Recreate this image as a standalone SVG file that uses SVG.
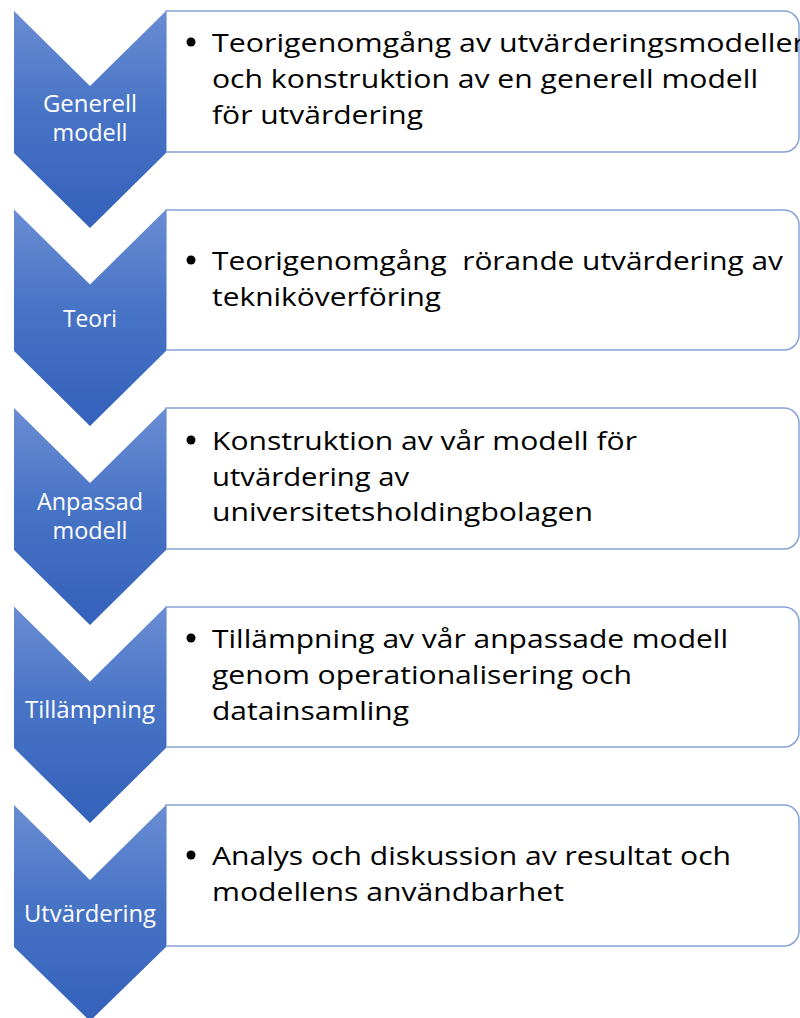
<svg xmlns="http://www.w3.org/2000/svg" width="800" height="1018" viewBox="0 0 800 1018">
  <defs>
    <linearGradient id="chevFill" x1="0" y1="0" x2="0" y2="1">
      <stop offset="0" stop-color="#6a8dd3"/>
      <stop offset="0.45" stop-color="#4874c6"/>
      <stop offset="1" stop-color="#3461ba"/>
    </linearGradient>
    <style>
      .box { fill: #ffffff; stroke: #86a2d8; stroke-width: 1.5; }
      .chev { fill: url(#chevFill); }
      .label { font-family: "Open Sans", "Noto Sans", "Liberation Sans", sans-serif; font-size: 23px; fill: #ffffff; text-anchor: middle; }
      .item { font-family: "Open Sans", "Noto Sans", "Liberation Sans", sans-serif; font-size: 25.5px; fill: #000000; font-variant-ligatures: none; }
      .dot { fill: #000000; }
    </style>
  </defs>

  <rect width="800" height="1018" fill="#ffffff"/>

  <!-- Step 1 -->
  <g id="step-generell-modell">
    <path class="box" d="M166,11 H784 A15,15 0 0 1 799,26 V137 A15,15 0 0 1 784,152 H166 Z"/>
    <polygon class="chev" points="14,11 90,86 166,11 166,153 90,228 14,153"/>
    <text class="label" x="90" y="112" textLength="94" lengthAdjust="spacingAndGlyphs">Generell</text>
    <text class="label" x="90" y="141" textLength="75" lengthAdjust="spacingAndGlyphs">modell</text>
    <circle class="dot" cx="191" cy="42" r="4.5"/>
    <text class="item" x="212" y="52" textLength="593" lengthAdjust="spacingAndGlyphs">Teorigenomgång av utvärderingsmodeller</text>
    <text class="item" x="212" y="88" textLength="546" lengthAdjust="spacingAndGlyphs">och konstruktion av en generell modell</text>
    <text class="item" x="212" y="124" textLength="211" lengthAdjust="spacingAndGlyphs">för utvärdering</text>
  </g>

  <!-- Step 2 -->
  <g id="step-teori">
    <path class="box" d="M166,210 H784 A15,15 0 0 1 799,225 V335 A15,15 0 0 1 784,350 H166 Z"/>
    <polygon class="chev" points="14,209.5 90,284.5 166,209.5 166,351 90,426 14,351"/>
    <text class="label" x="90" y="327" textLength="54" lengthAdjust="spacingAndGlyphs">Teori</text>
    <circle class="dot" cx="191" cy="260" r="4.5"/>
    <text class="item" x="212" y="270" textLength="571" lengthAdjust="spacingAndGlyphs" xml:space="preserve">Teorigenomgång  rörande utvärdering av</text>
    <text class="item" x="212" y="306" textLength="229" lengthAdjust="spacingAndGlyphs">tekniköverföring</text>
  </g>

  <!-- Step 3 -->
  <g id="step-anpassad-modell">
    <path class="box" d="M166,408 H784 A15,15 0 0 1 799,423 V534 A15,15 0 0 1 784,549 H166 Z"/>
    <polygon class="chev" points="14,408 90,483 166,408 166,550 90,625 14,550"/>
    <text class="label" x="90" y="510" textLength="106" lengthAdjust="spacingAndGlyphs">Anpassad</text>
    <text class="label" x="90" y="539" textLength="75" lengthAdjust="spacingAndGlyphs">modell</text>
    <circle class="dot" cx="191" cy="440" r="4.5"/>
    <text class="item" x="212" y="450" textLength="425" lengthAdjust="spacingAndGlyphs">Konstruktion av vår modell för</text>
    <text class="item" x="212" y="486" textLength="197" lengthAdjust="spacingAndGlyphs">utvärdering av</text>
    <text class="item" x="212" y="521" textLength="381" lengthAdjust="spacingAndGlyphs">universitetsholdingbolagen</text>
  </g>

  <!-- Step 4 -->
  <g id="step-tillampning">
    <path class="box" d="M166,607 H784 A15,15 0 0 1 799,622 V732 A15,15 0 0 1 784,747 H166 Z"/>
    <polygon class="chev" points="14,606.5 90,681.5 166,606.5 166,748 90,823 14,748"/>
    <text class="label" x="90" y="718" textLength="130" lengthAdjust="spacingAndGlyphs">Tillämpning</text>
    <circle class="dot" cx="191" cy="638" r="4.5"/>
    <text class="item" x="212" y="648" textLength="516" lengthAdjust="spacingAndGlyphs">Tillämpning av vår anpassade modell</text>
    <text class="item" x="212" y="684" textLength="420" lengthAdjust="spacingAndGlyphs">genom operationalisering och</text>
    <text class="item" x="212" y="720" textLength="197" lengthAdjust="spacingAndGlyphs">datainsamling</text>
  </g>

  <!-- Step 5 -->
  <g id="step-utvardering">
    <path class="box" d="M166,805 H784 A15,15 0 0 1 799,820 V931 A15,15 0 0 1 784,946 H166 Z"/>
    <polygon class="chev" points="14,805 90,880 166,805 166,947 90,1021 14,947"/>
    <text class="label" x="90" y="922" textLength="132" lengthAdjust="spacingAndGlyphs">Utvärdering</text>
    <circle class="dot" cx="191" cy="855" r="4.5"/>
    <text class="item" x="212" y="865" textLength="519" lengthAdjust="spacingAndGlyphs">Analys och diskussion av resultat och</text>
    <text class="item" x="212" y="901" textLength="352" lengthAdjust="spacingAndGlyphs">modellens användbarhet</text>
  </g>

  <!-- The steps are joined by the chevron shapes themselves; no separate connectors -->
  <g id="connectors"/>
</svg>
